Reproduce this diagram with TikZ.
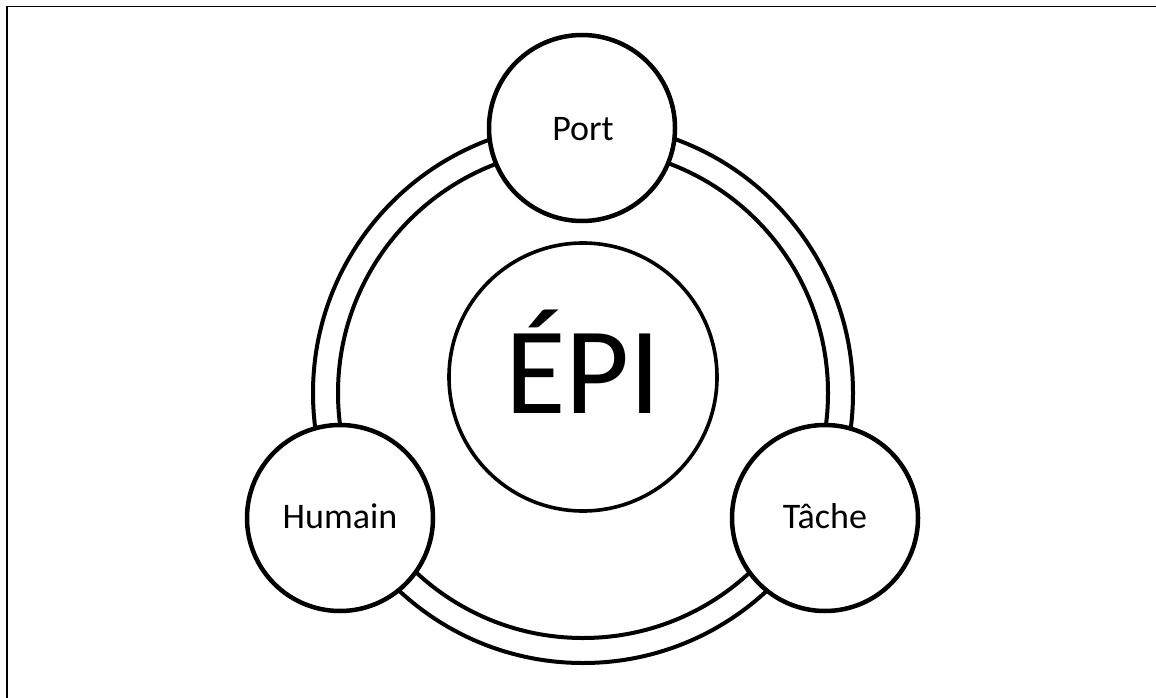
\documentclass[tikz,border=0pt]{standalone}
\usepackage{fontspec}
\setmainfont{Carlito}
\usetikzlibrary{calc}
\begin{document}
\begin{tikzpicture}[x=1pt,y=-1pt,
  smallcirc/.style={circle,draw=black,fill=white,line width=4.5pt,minimum size=186pt,inner sep=0pt},
  bigcirc/.style={circle,draw=black,fill=white,line width=3.6pt,minimum size=268pt,inner sep=0pt},
  ringline/.style={draw=black,line width=4pt},
  lbl/.style={anchor=base,inner sep=0pt,font=\fontsize{36}{40}\selectfont},
  framestyle/.style={draw=black,line width=1.8pt}]
\useasboundingbox (0,0) rectangle (1156,698);
% frame (top and left edges)
\coordinate (fTL) at (7,6.5);
\coordinate (fTR) at (1156,6.5);
\coordinate (fBL) at (7,698);
\draw[framestyle] (fTR) -- (fTL) -- (fBL);
% ring
\coordinate (ringc) at (583,393);
\draw[ringline] (ringc) circle[radius=270pt];
\draw[ringline] (ringc) circle[radius=245pt];
% outer circles
\node[smallcirc] (port) at (582,128) {};
\node[smallcirc] (humain) at (340,518) {};
\node[smallcirc] (tache) at (825,518) {};
% centre
\node[bigcirc] (epi) at (583,377) {};
% labels
\node[lbl] at ($(port.center)+(1,12)$) {Port};
\node[lbl] at ($(humain.center)+(0,10)$) {Humain};
\node[lbl] at ($(tache.center)+(0,10)$) {Tâche};
\node[lbl,font=\fontsize{124}{130}\selectfont] at ($(epi.center)+(0,36)$) {ÉPI};
\end{tikzpicture}
\end{document}
